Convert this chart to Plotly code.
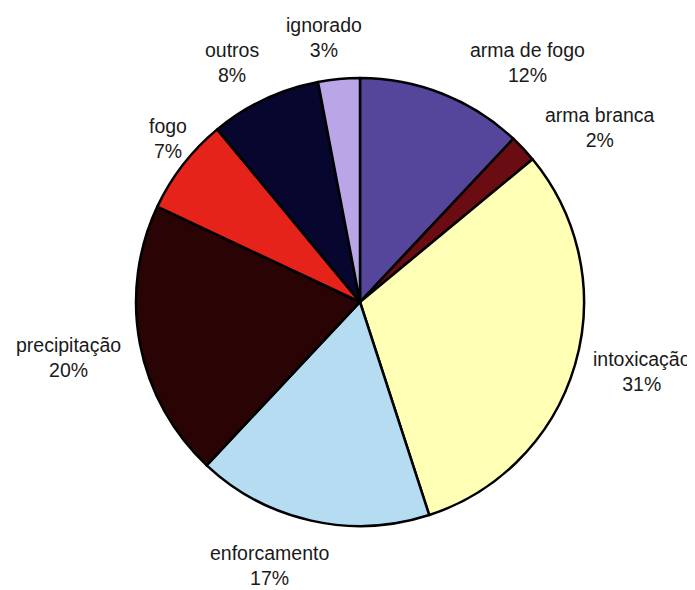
import plotly.graph_objects as go

categories = ["arma de fogo", "arma branca", "intoxicação", "enforcamento",
              "precipitação", "fogo", "outros", "ignorado"]
percentages = [12, 2, 31, 17, 20, 7, 8, 3]

colors = ["#55459b", "#6a0c12", "#ffffb6", "#b6dcf2",
          "#2a0405", "#e6231b", "#06062e", "#baa6e6"]

# the page body has an 8px margin; figure area is the window minus that offset
OFF = 8
W, H = 695 - OFF, 590 - OFF

# label anchor positions in window pixels (layout only)
label_pos = {
    "arma de fogo": (527, 62),
    "arma branca": (600, 128),
    "intoxicação": (642, 371),
    "enforcamento": (269, 565),
    "precipitação": (68, 357),
    "fogo": (168, 138),
    "outros": (232, 62),
    "ignorado": (324, 37),
}

def fx(px):
    return (px - OFF) / W

def fy(py):
    return 1 - (py - OFF) / H

fig = go.Figure(go.Pie(
    labels=categories,
    values=percentages,
    sort=False,
    direction="clockwise",
    rotation=0,
    textinfo="none",
    hoverinfo="label+percent",
    marker=dict(colors=colors, line=dict(color="black", width=2.5)),
    domain=dict(x=[fx(135), fx(585)], y=[fy(526), fy(78)]),
    showlegend=False,
))

annotations = []
for cat, p in zip(categories, percentages):
    px, py = label_pos[cat]
    annotations.append(dict(
        x=fx(px), y=fy(py), xref="paper", yref="paper",
        text=f"{cat}<br>{p}%", showarrow=False,
        xanchor="center", yanchor="middle",
        font=dict(family="Liberation Sans, Arial, sans-serif", size=19.5, color="#1a1a1a"),
    ))

fig.update_layout(
    width=W, height=H,
    margin=dict(l=0, r=0, t=0, b=0),
    paper_bgcolor="white",
    plot_bgcolor="white",
    annotations=annotations,
)

fig.write_html("out.html")
